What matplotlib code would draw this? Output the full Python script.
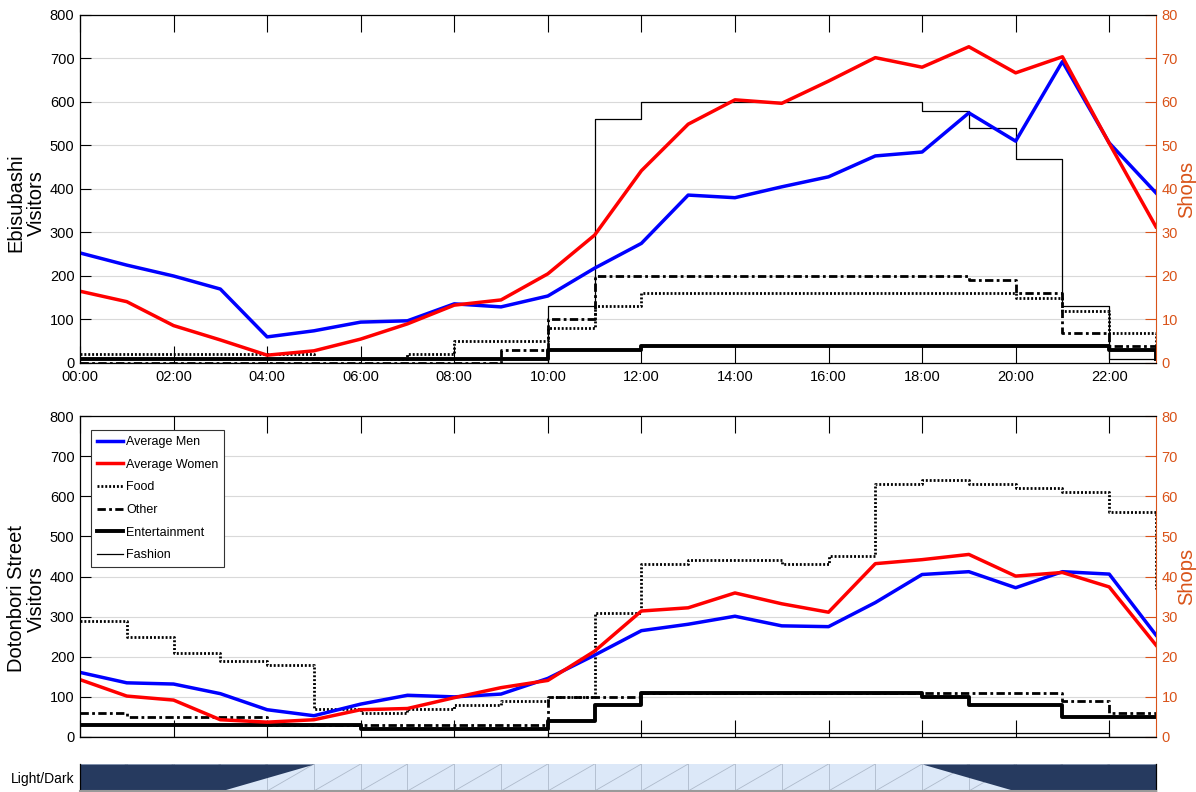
import numpy as np
import matplotlib
matplotlib.use("Agg")
import matplotlib.pyplot as plt

plt.rcParams['font.family'] = ['Liberation Sans', 'DejaVu Sans']

hours = list(range(24))
xtick_hours = list(range(0, 24, 2))
xtick_labels = [f"{h:02d}:00" for h in xtick_hours]

# Ebisubashi
men_e = [253, 225, 200, 170, 60, 74, 94, 97, 136, 129, 154, 218, 275, 386, 380, 405, 428, 476, 485, 575, 510, 693, 506, 391]
women_e = [165, 141, 86, 53, 18, 28, 55, 90, 133, 145, 205, 294, 442, 549, 605, 597, 648, 702, 680, 727, 667, 704, 505, 313]
food_e = [2, 2, 2, 2, 2, 1, 1, 2, 5, 5, 8, 13, 16, 16, 16, 16, 16, 16, 16, 16, 15, 12, 7, 2]
other_e = [0, 0, 0, 0, 0, 0, 0, 0, 0, 3, 10, 20, 20, 20, 20, 20, 20, 20, 20, 19, 16, 7, 4, 1]
ent_e = [1, 1, 1, 1, 1, 1, 1, 1, 1, 1, 3, 3, 4, 4, 4, 4, 4, 4, 4, 4, 4, 4, 3, 1]
fashion_e = [0, 0, 0, 0, 0, 0, 0, 0, 0, 0, 13, 56, 60, 60, 60, 60, 60, 60, 58, 54, 47, 13, 1, 1]

# Dotonbori Street
men_d = [161, 135, 132, 108, 68, 53, 82, 104, 100, 107, 146, 204, 265, 281, 301, 277, 275, 335, 405, 412, 372, 412, 406, 254]
women_d = [143, 102, 92, 43, 37, 43, 68, 71, 98, 123, 141, 214, 314, 322, 359, 332, 311, 432, 442, 455, 401, 410, 374, 229]
food_d = [29, 25, 21, 19, 18, 7, 6, 7, 8, 9, 10, 31, 43, 44, 44, 43, 45, 63, 64, 63, 62, 61, 56, 37]
other_d = [6, 5, 5, 5, 3, 3, 3, 3, 3, 3, 10, 10, 11, 11, 11, 11, 11, 11, 11, 11, 11, 9, 6, 5]
ent_d = [3, 3, 3, 3, 3, 3, 2, 2, 2, 2, 4, 8, 11, 11, 11, 11, 11, 11, 10, 8, 8, 5, 5, 5]
fashion_d = [0, 0, 0, 0, 0, 0, 0, 0, 0, 0, 1, 1, 1, 1, 1, 1, 1, 1, 1, 1, 1, 1, 0, 0]

# light level per hour (0 = dark, 1 = light)
light = [0, 0, 0, 0, 0.5, 1, 1, 1, 1, 1, 1, 1, 1, 1, 1, 1, 1, 1, 1, 0.5, 0, 0, 0, 0]

ORANGE = '#D95319'
DARK = '#263A5F'
LIGHTBLUE = '#DCE8F8'
DOTTED = (0, (0.7, 0.7))
DASHDOT = (0, (3.0, 1.2, 1.0, 1.2))

fig = plt.figure(figsize=(11.96, 7.92), dpi=100)


def make_panel(rect, men, women, food, other, ent, fashion, ylabel, show_xlabels,
               label_y, legend=False):
    ax = fig.add_axes(rect)
    ax2 = ax.twinx()
    ax.set_zorder(ax2.get_zorder() + 1)
    ax.patch.set_visible(False)
    x = np.array(hours)
    l_food, = ax2.step(x, food, where='post', color='black', ls=DOTTED, lw=2.0, label='Food')
    l_other, = ax2.step(x, other, where='post', color='black', ls=DASHDOT, lw=2.0, label='Other')
    l_ent, = ax2.step(x, ent, where='post', color='black', ls='-', lw=2.8, label='Entertainment')
    l_fash, = ax2.step(x, fashion, where='post', color='black', ls='-', lw=0.9, label='Fashion')
    l_men, = ax.plot(x, men, color='#0000FF', lw=2.5, label='Average Men')
    l_women, = ax.plot(x, women, color='#FF0000', lw=2.5, label='Average Women')

    ax.set_xlim(0, 23)
    ax.set_ylim(0, 800)
    ax2.set_ylim(0, 80)
    ax.set_yticks(range(0, 801, 100))
    ax2.set_yticks(range(0, 81, 10))
    ax.set_xticks(xtick_hours)
    if show_xlabels:
        ax.set_xticklabels(xtick_labels)
    else:
        ax.set_xticklabels([])
    ax.tick_params(axis='x', direction='in', length=12, width=0.8, top=True, labelsize=10.5, pad=5)
    ax.tick_params(axis='y', direction='in', length=8, width=0.8, labelsize=10.5, pad=4)
    ax2.tick_params(axis='y', direction='in', length=8, width=0.8, colors=ORANGE, labelsize=10.5, pad=4)
    ax2.spines['right'].set_color(ORANGE)
    for s in ['top', 'left', 'bottom']:
        ax2.spines[s].set_visible(False)
    for s in ['top', 'left', 'bottom']:
        ax.spines[s].set_linewidth(0.9)
    ax.spines['right'].set_visible(False)
    ax2.set_xticks(xtick_hours)
    ax2.grid(True, axis='both', color='#D9D9D9', lw=0.8)
    ax2.set_axisbelow(True)
    ax.set_ylabel(ylabel, fontsize=14.5, linespacing=1.05)
    ax.yaxis.set_label_coords(-0.032, label_y)
    ax2.set_ylabel('Shops', fontsize=14.5, color=ORANGE)
    ax2.yaxis.set_label_coords(1.0195, 0.5)
    if legend:
        handles = [l_men, l_women, l_food, l_other, l_ent, l_fash]
        leg = ax.legend(handles=handles, loc='upper left', bbox_to_anchor=(0.0105, 0.955),
                        fontsize=9, frameon=True, fancybox=False, framealpha=1,
                        edgecolor='#333333', handlelength=2.1, labelspacing=0.85,
                        handletextpad=0.25, borderpad=0.45, borderaxespad=0.0)
        leg.get_frame().set_linewidth(0.8)
    return ax, ax2


L = 80 / 1196
W = (1156 - 80) / 1196
make_panel([L, 1 - 363 / 792, W, (363 - 15) / 792], men_e, women_e, food_e, other_e, ent_e, fashion_e,
           'Ebisubashi\nVisitors', True, 0.46)
make_panel([L, 1 - 737 / 792, W, (737 - 416) / 792], men_d, women_d, food_d, other_d, ent_d, fashion_d,
           'Dotonbori Street\nVisitors', False, 0.43, legend=True)

# Light / Dark bar
ax3 = fig.add_axes([L, 1 - 791 / 792, W, (791 - 764) / 792])
x = np.array(hours)
ax3.set_xlim(0, 23)
ax3.set_ylim(0, 1)
ax3.set_facecolor(LIGHTBLUE)
for h in hours[:-1]:
    ax3.plot([h, h], [0, 1], color='#AEBACB', lw=0.6, zorder=1)
    ax3.plot([h, h + 1], [0, 1], color='#AEBACB', lw=0.6, zorder=1)
ax3.fill_between(x, light, 1, color=DARK, lw=0, zorder=3)
ax3.set_xticks([])
ax3.set_yticks([0.5])
ax3.set_yticklabels(['Light/Dark'])
ax3.tick_params(axis='y', direction='in', length=8, width=0.8, labelsize=10, right=True, pad=4)
ax3.spines['top'].set_visible(False)
ax3.spines['bottom'].set_color('#9A9A9A')
ax3.spines['bottom'].set_linewidth(1.5)
ax3.spines['left'].set_linewidth(0.9)
ax3.spines['right'].set_linewidth(0.9)
for s in ['left', 'right', 'bottom']:
    ax3.spines[s].set_zorder(5)

fig.savefig('out.png', dpi=100)
